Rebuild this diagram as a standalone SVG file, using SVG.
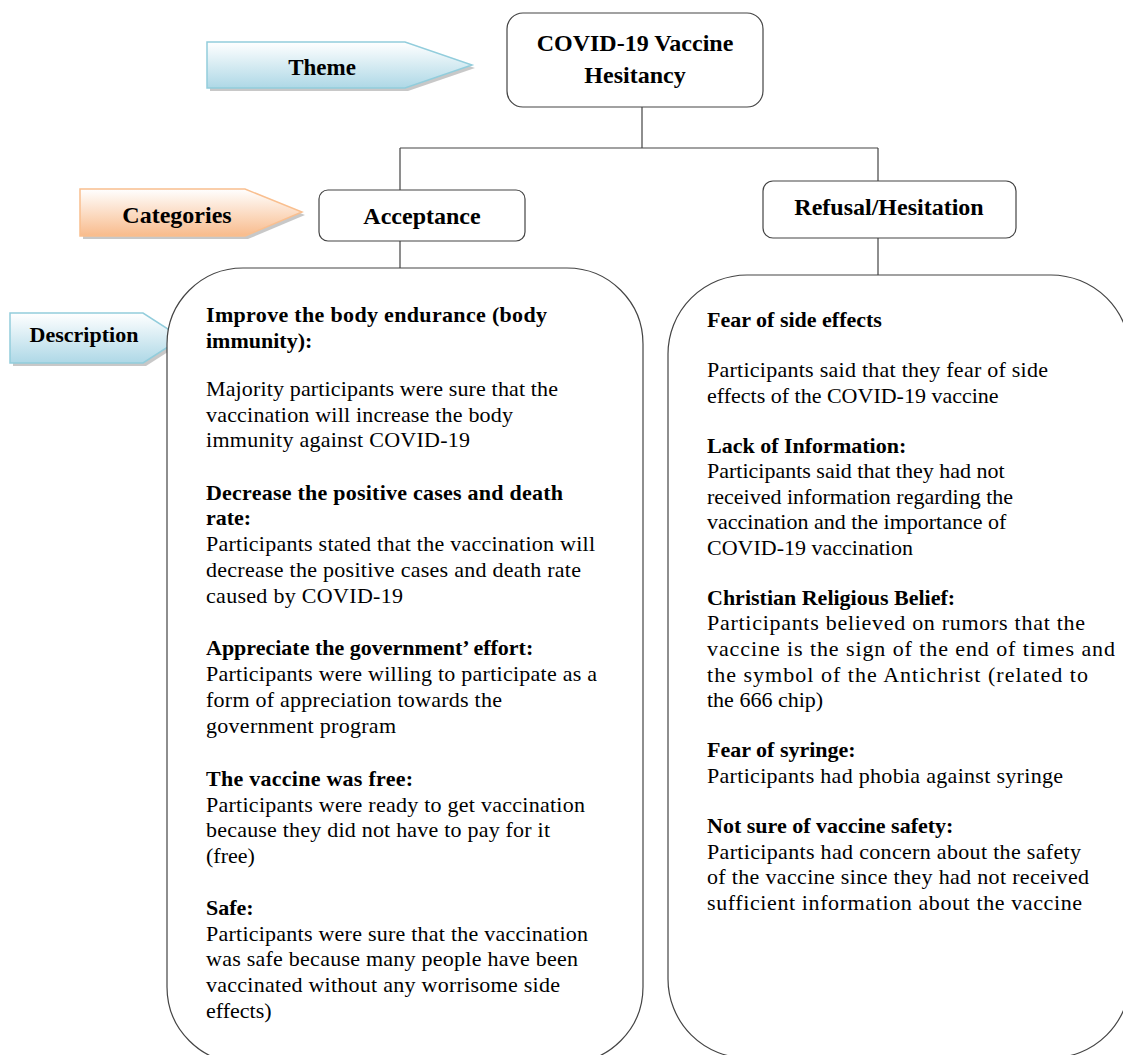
<svg xmlns="http://www.w3.org/2000/svg" width="1123" height="1055" viewBox="0 0 1123 1055">
<style>
.box{fill:#fff;stroke:#444;stroke-width:1.2}
.conn{fill:none;stroke:#444;stroke-width:1.2}
.lbl{font-family:"Liberation Serif","Times New Roman",serif;font-weight:bold;font-size:24px;fill:#000;text-anchor:middle}
.tag{font-family:"Liberation Serif","Times New Roman",serif;font-weight:bold;fill:#000;text-anchor:middle}
.h{font-family:"Liberation Serif","Times New Roman",serif;font-weight:bold;font-size:22px;fill:#000}
.b{font-family:"Liberation Serif","Times New Roman",serif;font-size:22px;fill:#000}
.shadow{fill:#9a9a9a;opacity:0.55}
</style>
<defs>
<linearGradient id="gBlue" x1="0" y1="0" x2="0" y2="1">
<stop offset="0" stop-color="#ffffff"/>
<stop offset="1" stop-color="#aed8e6"/>
</linearGradient>
<linearGradient id="gOrange" x1="0" y1="0" x2="0" y2="1">
<stop offset="0" stop-color="#ffffff"/>
<stop offset="1" stop-color="#f8bb8c"/>
</linearGradient>
</defs>

<g id="connectors">
<path class="conn" d="M642,107 V148 M400,148 H878 M400,148 V190 M878,148 V181 M400,241 V268 M878,238 V275"/>
</g>

<g id="theme-tag">
<polygon class="shadow" points="210,45 408,45 475,68 408,91 210,91"/>
<polygon points="207,42 405,42 472,65 405,88 207,88" fill="url(#gBlue)" stroke="#92cddc" stroke-width="1.5"/>
<text class="tag" x="322" y="75" font-size="23px">Theme</text>
</g>

<g id="categories-tag">
<polygon class="shadow" points="83,192 248,192 305,215 248,239 83,239"/>
<polygon points="80,189 245,189 302,212 245,236 80,236" fill="url(#gOrange)" stroke="#f9bf8f" stroke-width="1.5"/>
<text class="tag" x="177" y="223" font-size="24px">Categories</text>
</g>

<g id="description-tag">
<polygon class="shadow" points="13,316 146,316 185,341 146,366 13,366"/>
<polygon points="10,313 143,313 182,338 143,363 10,363" fill="url(#gBlue)" stroke="#92cddc" stroke-width="1.5"/>
<text class="tag" x="84" y="342" font-size="22px">Description</text>
</g>

<g id="theme">
<rect class="box" x="507" y="13" width="256" height="94" rx="16"/>
<text class="lbl" x="635" y="51">COVID-19 Vaccine</text>
<text class="lbl" x="635" y="83">Hesitancy</text>
</g>

<g id="acceptance">
<rect class="box" x="319" y="190" width="206" height="51" rx="9"/>
<text class="lbl" x="422" y="224">Acceptance</text>
</g>

<g id="refusal">
<rect class="box" x="763" y="181" width="253" height="57" rx="10"/>
<text class="lbl" x="889" y="215">Refusal/Hesitation</text>
</g>

<g id="acceptance-description">
<rect class="box" x="167" y="268" width="476" height="795" rx="76"/>
<text class="h" x="206" y="322" textLength="341" lengthAdjust="spacing">Improve the body endurance (body</text>
<text class="h" x="206" y="348">immunity):</text>
<text class="b" x="206" y="396" textLength="352" lengthAdjust="spacing">Majority participants were sure that the</text>
<text class="b" x="206" y="422" textLength="307" lengthAdjust="spacing">vaccination will increase the body</text>
<text class="b" x="206" y="447" textLength="264" lengthAdjust="spacing">immunity against COVID-19</text>
<text class="h" x="206" y="500" textLength="357" lengthAdjust="spacing">Decrease the positive cases and death</text>
<text class="h" x="206" y="525">rate:</text>
<text class="b" x="206" y="551" textLength="389" lengthAdjust="spacing">Participants stated that the vaccination will</text>
<text class="b" x="206" y="577" textLength="375" lengthAdjust="spacing">decrease the positive cases and death rate</text>
<text class="b" x="206" y="603" textLength="197" lengthAdjust="spacing">caused by COVID-19</text>
<text class="h" x="206" y="655">Appreciate the government’ effort:</text>
<text class="b" x="206" y="681" textLength="391" lengthAdjust="spacing">Participants were willing to participate as a</text>
<text class="b" x="206" y="707" textLength="296" lengthAdjust="spacing">form of appreciation towards the</text>
<text class="b" x="206" y="733" textLength="190" lengthAdjust="spacing">government program</text>
<text class="h" x="206" y="786" textLength="207" lengthAdjust="spacing">The vaccine was free:</text>
<text class="b" x="206" y="812" textLength="379" lengthAdjust="spacing">Participants were ready to get vaccination</text>
<text class="b" x="206" y="837" textLength="344" lengthAdjust="spacing">because they did not have to pay for it</text>
<text class="b" x="206" y="863">(free)</text>
<text class="h" x="206" y="915">Safe:</text>
<text class="b" x="206" y="941" textLength="382" lengthAdjust="spacing">Participants were sure that the vaccination</text>
<text class="b" x="206" y="966" textLength="372" lengthAdjust="spacing">was safe because many people have been</text>
<text class="b" x="206" y="992" textLength="354" lengthAdjust="spacing">vaccinated without any worrisome side</text>
<text class="b" x="206" y="1018">effects)</text>
</g>

<g id="refusal-description">
<rect class="box" x="668" y="275" width="462" height="783" rx="79"/>
<text class="h" x="707" y="327">Fear of side effects</text>
<text class="b" x="707" y="377" textLength="341" lengthAdjust="spacing">Participants said that they fear of side</text>
<text class="b" x="707" y="403">effects of the COVID-19 vaccine</text>
<text class="h" x="707" y="453">Lack of Information:</text>
<text class="b" x="707" y="478">Participants said that they had not</text>
<text class="b" x="707" y="504">received information regarding the</text>
<text class="b" x="707" y="529">vaccination and the importance of</text>
<text class="b" x="707" y="555">COVID-19 vaccination</text>
<text class="h" x="707" y="605">Christian Religious Belief:</text>
<text class="b" x="707" y="630" textLength="378" lengthAdjust="spacing">Participants believed on rumors that the</text>
<text class="b" x="707" y="656" textLength="408" lengthAdjust="spacing">vaccine is the sign of the end of times and</text>
<text class="b" x="707" y="682" textLength="381" lengthAdjust="spacing">the symbol of the Antichrist (related to</text>
<text class="b" x="707" y="707">the 666 chip)</text>
<text class="h" x="707" y="757">Fear of syringe:</text>
<text class="b" x="707" y="783" textLength="356" lengthAdjust="spacing">Participants had phobia against syringe</text>
<text class="h" x="707" y="833">Not sure of vaccine safety:</text>
<text class="b" x="707" y="859" textLength="374" lengthAdjust="spacing">Participants had concern about the safety</text>
<text class="b" x="707" y="884" textLength="382" lengthAdjust="spacing">of the vaccine since they had not received</text>
<text class="b" x="707" y="910" textLength="375" lengthAdjust="spacing">sufficient information about the vaccine</text>
</g>
</svg>
